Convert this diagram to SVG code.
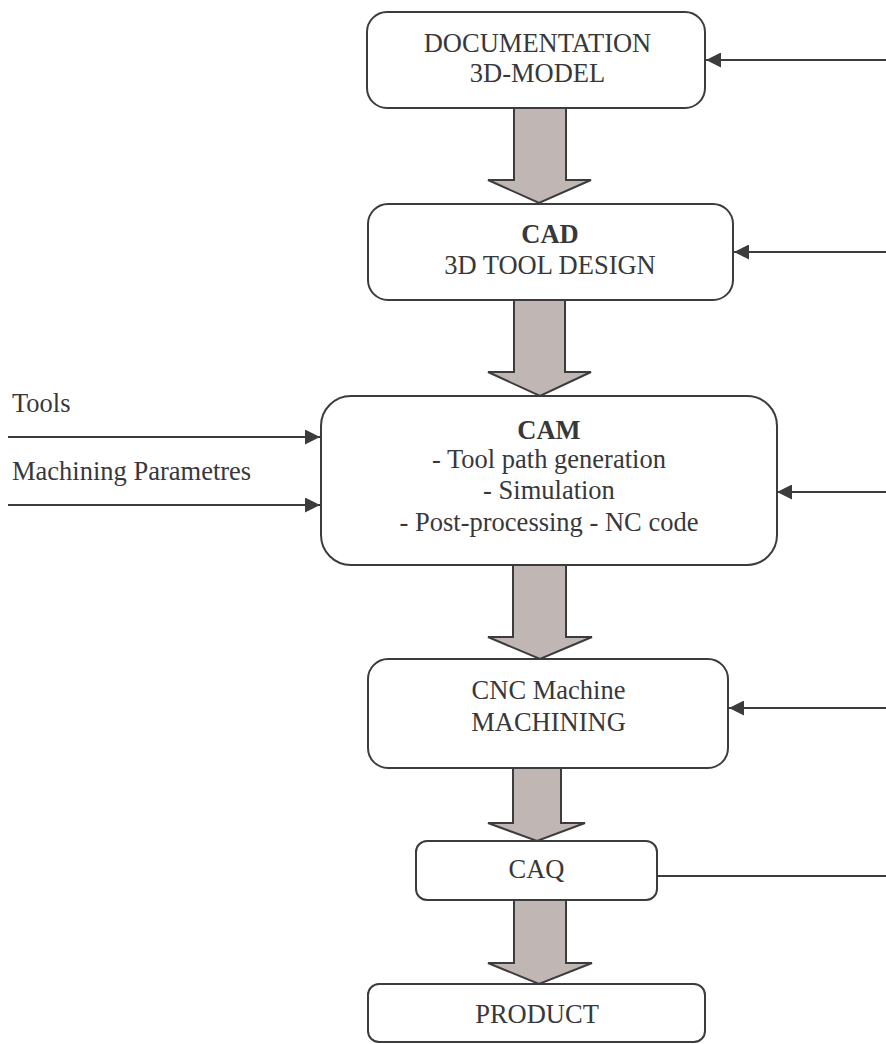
<svg xmlns="http://www.w3.org/2000/svg" width="886" height="1044" viewBox="0 0 886 1044">
<defs>
<style>
.box{fill:#ffffff;stroke:#3c3c3e;stroke-width:2}
.big{fill:#c0b6b3;stroke:#3c3c3e;stroke-width:2;stroke-linejoin:miter}
.ln{fill:none;stroke:#3c3c3e;stroke-width:2}
text{font-family:"Liberation Serif","Times New Roman",serif;font-size:26.5px;fill:#38383a}
.c{text-anchor:middle}
.b{font-weight:bold}
</style>
<marker id="ah" viewBox="0 0 15 15" refX="15" refY="7.5" markerWidth="15" markerHeight="15" markerUnits="userSpaceOnUse" orient="auto">
<path d="M0,0 L15,7.5 L0,15 z" fill="#3c3c3e"/>
</marker>
</defs>
<rect width="886" height="1044" fill="#ffffff"/>
<g id="connectors">
<polygon class="big" points="514,108 566,108 566,180 591,180 539,203 488,180 514,180"/>
<polygon class="big" points="514,300 565,300 565,372 591,372 540,396 488,372 514,372"/>
<polygon class="big" points="513,565 566,565 566,637 592,637 540,659 488,637 513,637"/>
<polygon class="big" points="513,768 561,768 561,823 585,823 537,841 488,823 513,823"/>
<polygon class="big" points="514,900 566,900 566,963 592,963 539,984 488,963 514,963"/>
<line class="ln" x1="886" y1="60" x2="706" y2="60" marker-end="url(#ah)"/>
<line class="ln" x1="886" y1="252" x2="734" y2="252" marker-end="url(#ah)"/>
<line class="ln" x1="886" y1="492" x2="777" y2="492" marker-end="url(#ah)"/>
<line class="ln" x1="886" y1="708" x2="729" y2="708" marker-end="url(#ah)"/>
<line class="ln" x1="657" y1="876" x2="886" y2="876"/>
<line class="ln" x1="8" y1="437" x2="320" y2="437" marker-end="url(#ah)"/>
<line class="ln" x1="8" y1="505" x2="320" y2="505" marker-end="url(#ah)"/>
</g>
<g id="label-tools"><text x="12" y="412">Tools</text></g>
<g id="label-params"><text x="12" y="480">Machining Parametres</text></g>
<g id="node-doc">
<rect class="box" x="367" y="12" width="338" height="96" rx="20"/>
<text class="c" x="537.5" y="52">DOCUMENTATION</text>
<text class="c" x="537.5" y="82">3D-MODEL</text>
</g>
<g id="node-cad">
<rect class="box" x="368" y="204" width="365" height="96" rx="20"/>
<text class="c b" x="550" y="243">CAD</text>
<text class="c" x="550" y="274">3D TOOL DESIGN</text>
</g>
<g id="node-cam">
<rect class="box" x="321" y="396" width="456" height="169" rx="30"/>
<text class="c b" x="549" y="439">CAM</text>
<text class="c" x="549" y="468">- Tool path generation</text>
<text class="c" x="549" y="499">- Simulation</text>
<text class="c" x="549" y="531">- Post-processing - NC code</text>
</g>
<g id="node-cnc">
<rect class="box" x="368" y="659" width="360" height="109" rx="20"/>
<text class="c" x="548.5" y="699">CNC Machine</text>
<text class="c" x="548.5" y="731">MACHINING</text>
</g>
<g id="node-caq">
<rect class="box" x="416" y="841" width="241" height="59" rx="11"/>
<text class="c" x="536.5" y="878">CAQ</text>
</g>
<g id="node-product">
<rect class="box" x="368" y="984" width="337" height="58" rx="11"/>
<text class="c" x="537" y="1023">PRODUCT</text>
</g>
</svg>
